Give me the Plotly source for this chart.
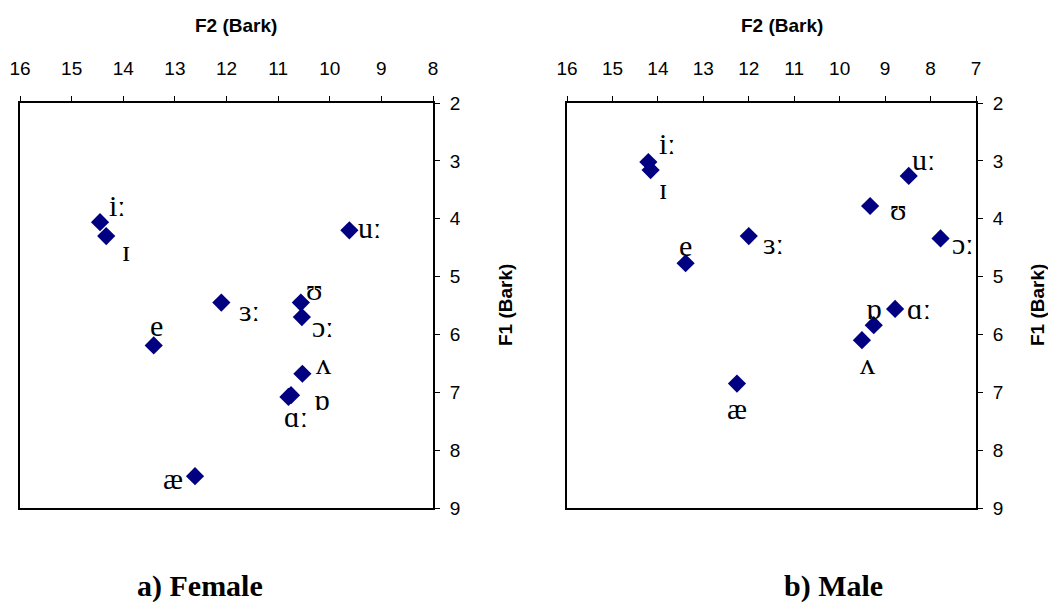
import plotly.graph_objects as go

W, H = 1048, 606

vowels_f = ["iː", "ɪ", "uː", "ɜː", "ʊ", "ɔː", "e", "ʌ", "ɒ", "ɑː", "æ"]
f2_female = [14.45, 14.33, 9.62, 12.10, 10.56, 10.54, 13.41, 10.53, 10.75, 10.80, 12.61]
f1_female = [4.06, 4.30, 4.20, 5.45, 5.45, 5.70, 6.19, 6.68, 7.05, 7.08, 8.45]

vowels_m = ["iː", "ɪ", "uː", "ʊ", "ɔː", "ɜː", "e", "ɑː", "ɒ", "ʌ", "æ"]
f2_male = [14.21, 14.16, 8.48, 9.33, 7.78, 12.00, 13.39, 8.78, 9.25, 9.51, 12.26]
f1_male = [3.02, 3.16, 3.26, 3.78, 4.34, 4.30, 4.77, 5.56, 5.84, 6.10, 6.85]

x_ticks_f = [16, 15, 14, 13, 12, 11, 10, 9, 8]
x_ticks_m = [16, 15, 14, 13, 12, 11, 10, 9, 8, 7]
y_ticks = [2, 3, 4, 5, 6, 7, 8, 9]

# label offsets in pixels (styling)
off_f = [(17, -17), (20, 14), (20, -3), (28, 8), (13, -13), (21, 9), (3, -20),
         (21, -10), (31, 4), (8, 20), (-22, 2)]
off_m = [(19, -19), (12, 18), (15, -16), (28, 4), (22, 5), (25, 7), (0, -18),
         (24, 0), (0, -17), (6, 23), (0, 25)]

MARK = "#000080"
LABEL_FONT = dict(family="Liberation Serif", size=30, color="black")

fig = go.Figure()
fig.add_trace(go.Scatter(x=f2_female, y=f1_female, mode="markers", xaxis="x", yaxis="y",
                         marker=dict(symbol="diamond", size=14, color=MARK), showlegend=False))
fig.add_trace(go.Scatter(x=f2_male, y=f1_male, mode="markers", xaxis="x2", yaxis="y2",
                         marker=dict(symbol="diamond", size=14, color=MARK), showlegend=False))

annots = []
for v, x, y, (dx, dy) in zip(vowels_f, f2_female, f1_female, off_f):
    annots.append(dict(x=x, y=y, xref="x", yref="y", text=v, showarrow=False,
                       xanchor="center", yanchor="middle",
                       xshift=dx, yshift=-dy, font=LABEL_FONT))
for v, x, y, (dx, dy) in zip(vowels_m, f2_male, f1_male, off_m):
    annots.append(dict(x=x, y=y, xref="x2", yref="y2", text=v, showarrow=False,
                       xanchor="center", yanchor="middle",
                       xshift=dx, yshift=-dy, font=LABEL_FONT))

def px_x(p):
    return p / W

def px_y(p):
    return 1 - p / H

title_font = dict(family="Liberation Sans", size=19, color="black")
cap_font = dict(family="Liberation Serif", size=30, color="black")
paper_text = [
    (236, 25, "<b>F2 (Bark)</b>", 0, title_font),
    (782, 25, "<b>F2 (Bark)</b>", 0, title_font),
    (505, 305, "<b>F1 (Bark)</b>", -90, title_font),
    (1037, 305, "<b>F1 (Bark)</b>", -90, title_font),
    (200, 586, "<b>a) Female</b>", 0, cap_font),
    (833, 586, "<b>b) Male</b>", 0, cap_font),
]
for px, py, txt, ang, fnt in paper_text:
    annots.append(dict(x=px_x(px), y=px_y(py), xref="paper", yref="paper", text=txt,
                       showarrow=False, textangle=ang, xanchor="center", yanchor="middle",
                       borderpad=0, font=fnt))

tick_font = dict(family="Liberation Sans", size=19, color="black")
common_x = dict(side="top", showgrid=False, zeroline=False, showline=True, linecolor="black",
                linewidth=2, mirror=True, ticks="outside", ticklen=5, tickcolor="black",
                tickfont=tick_font, ticklabelstandoff=13, automargin=False)
common_y = dict(side="right", showgrid=False, zeroline=False, showline=True, linecolor="black",
                linewidth=2, mirror=True, ticks="outside", ticklen=5, tickcolor="black",
                tickfont=tick_font, range=[9, 2], tickvals=y_ticks, ticklabelstandoff=6,
                domain=[px_y(508), px_y(103)], automargin=False)

fig.update_layout(
    width=W, height=H, margin=dict(l=0, r=0, t=0, b=0, autoexpand=False),
    paper_bgcolor="white", plot_bgcolor="white",
    xaxis=dict(common_x, range=[16, 8], tickvals=x_ticks_f, domain=[px_x(20), px_x(433)], anchor="y"),
    yaxis=dict(common_y, anchor="x"),
    xaxis2=dict(common_x, range=[16, 7], tickvals=x_ticks_m, domain=[px_x(567), px_x(976)], anchor="y2"),
    yaxis2=dict(common_y, anchor="x2"),
    annotations=annots,
)

fig.write_html("out.html")
